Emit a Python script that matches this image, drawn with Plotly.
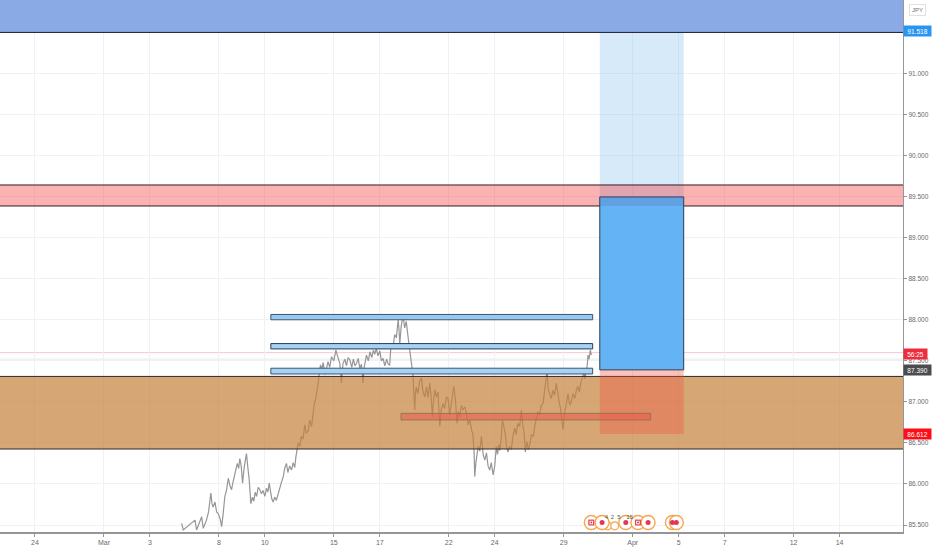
import plotly.graph_objects as go

# trading-day index (0 = 24 Feb) and price
day = [6.38,6.45,6.96,7.03,7.25,7.32,7.46,7.55,7.65,7.70,
       7.75,7.83,7.90,7.97,8.05,8.12,8.18,8.26,8.33,8.41,
       8.48,8.55,8.62,8.70,8.80,8.86,8.91,8.97,9.03,9.10,
       9.20,9.26,9.32,9.39,9.46,9.52,9.58,9.64,9.71,9.78,
       9.85,9.92,10.0,10.07,10.13,10.19,10.25,10.30,10.36,10.43,
       10.50,10.58,10.66,10.72,10.80,10.87,10.94,11.0,11.08,11.16,
       11.23,11.30,11.35,11.45,11.52,11.59,11.66,11.74,11.80,11.88,
       11.95,12.03,12.10,12.15,12.20,12.26,12.32,12.37,12.42,12.48,
       12.54,12.61,12.68,12.75,12.82,12.90,13.0,13.09,13.16,13.26,
       13.30,13.33,13.37,13.40,13.48,13.55,13.62,13.70,13.78,13.85,
       13.92,13.99,14.06,14.13,14.20,14.27,14.32,14.37,14.42,14.50,
       14.57,14.65,14.72,14.78,14.85,14.92,15.0,15.07,15.14,15.22,
       15.30,15.36,15.43,15.47,15.51,15.58,15.65,15.72,15.80,15.84,
       15.87,15.93,16.01,16.08,16.15,16.23,16.30,16.37,16.41,16.45,
       16.48,16.52,16.55,16.59,16.66,16.73,16.81,16.88,16.96,17.03,
       17.10,17.17,17.23,17.29,17.34,17.39,17.46,17.53,17.61,17.67,
       17.75,17.82,17.90,17.97,18.04,18.10,18.16,18.22,18.29,18.36,
       18.42,18.48,18.55,18.62,18.70,18.77,18.84,18.92,18.99,19.05,
       19.10,19.13,19.18,19.23,19.28,19.35,19.42,19.50,19.57,19.64,
       19.71,19.78,19.85,19.93,20.0,20.07,20.12,20.18,20.22,20.28,
       20.33,20.40,20.46,20.52,20.58,20.65,20.72,20.80,20.87,20.93,
       21.0,21.08,21.16,21.22,21.28,21.33,21.40,21.46,21.52,21.60,
       21.68,21.75,21.81,21.88,21.95,22.03,22.10,22.16,22.22,22.28,
       22.32,22.38,22.46,22.53,22.60,22.68,22.74,22.80,22.86,22.92,
       22.97,23.03,23.10,23.15,23.19,23.26,23.33,23.40,23.48,23.55,
       23.62,23.68,23.75,23.84,23.87,23.92,23.96,24.02,24.06,24.10,
       24.16,24.20]
price = [85.52,85.44,85.56,85.44,85.60,85.46,85.56,85.66,85.89,85.76,
         85.72,85.78,85.66,85.64,85.58,85.48,85.62,85.85,85.92,86.07,
         85.98,85.93,86.03,86.12,86.25,86.19,86.31,86.22,86.01,86.20,
         86.37,86.20,86.05,85.76,85.84,85.79,85.90,85.85,85.96,85.93,
         85.88,85.92,85.85,85.95,85.90,86.01,85.90,85.82,85.78,85.84,
         85.80,85.89,85.98,86.02,86.09,86.20,86.25,86.14,86.22,86.17,
         86.26,86.20,86.33,86.50,86.46,86.58,86.55,86.72,86.62,86.64,
         86.78,86.70,86.86,86.98,87.02,87.12,87.23,87.36,87.45,87.40,
         87.48,87.33,87.42,87.49,87.42,87.55,87.50,87.63,87.56,87.47,
         87.35,87.23,87.38,87.47,87.52,87.44,87.54,87.51,87.42,87.52,
         87.44,87.47,87.53,87.41,87.46,87.23,87.42,87.50,87.57,87.50,
         87.61,87.54,87.63,87.58,87.65,87.56,87.62,87.50,87.53,87.44,
         87.52,87.46,87.45,87.62,87.71,87.68,87.82,87.78,88.00,87.86,
         87.71,87.92,88.06,87.90,87.98,87.79,87.63,87.51,87.40,87.31,
         87.10,86.90,87.10,87.18,87.10,87.25,87.29,87.12,87.06,87.18,
         87.05,87.23,87.08,86.82,87.02,87.15,87.06,87.12,86.70,86.90,
         86.98,86.92,87.06,87.04,86.84,86.98,87.08,87.19,87.02,86.74,
         86.88,86.82,86.96,86.90,86.94,86.86,86.72,86.78,86.66,86.60,
         86.40,86.09,86.26,86.40,86.46,86.40,86.58,86.35,86.29,86.38,
         86.22,86.17,86.26,86.11,86.22,86.46,86.36,86.48,86.41,86.55,
         86.78,86.70,86.60,86.44,86.39,86.46,86.42,86.60,86.68,86.60,
         86.74,86.70,86.90,86.72,86.62,86.39,86.52,86.42,86.48,86.60,
         86.58,86.72,86.78,86.88,86.84,86.96,86.98,87.12,87.22,87.39,
         87.16,87.10,87.04,87.14,87.08,87.23,87.08,87.00,86.92,86.78,
         86.66,86.84,86.94,87.04,87.10,86.96,87.00,87.10,87.04,87.14,
         87.19,87.12,87.24,87.31,87.41,87.28,87.33,87.44,87.57,87.52,
         87.63,87.57]

x_ticks = [0,3,5,8,10,13,15,18,20,23,26,28,30,33,35]
x_labels = ["24","Mar","3","8","10","15","17","22","24","29","Apr","5","7","12","14"]
y_ticks = [85.5,86,86.5,87,87.5,88,88.5,89,89.5,90,90.5,91]

event_days = [24.20,24.67,25.70,26.23,26.67,27.73,27.90]
event_price = [85.53]*7
flag_days = [24.20,26.23]
flag_price = [85.53]*2
small_days = [24.92,25.22]
small_price = [85.49]*2
count_days = [24.86,25.12,25.40,25.87]
count_labels = ["4","2","5","15"]
count_price = [85.595]*4

X0, X1 = -1.522, 37.76
Y0, Y1 = 85.415, 91.895
# zones that run past the visible plot on both sides, so only their top and bottom edges show
BEYOND_L, BEYOND_R, BEYOND_TOP = -4, 40, 93

def rect(x0, x1, y0, y1, fill, line=None, w=1):
    return dict(type="rect", xref="x", yref="y", x0=x0, x1=x1, y0=y0, y1=y1, fillcolor=fill,
                line=dict(color=line, width=w) if line else dict(width=0), layer="above")

shapes = [
    rect(24.57, 28.22, 89.496, 91.50, "rgba(103,177,236,0.27)"),
    rect(BEYOND_L, BEYOND_R, 91.50, BEYOND_TOP, "rgb(138,170,230)", "rgb(30,30,40)", 1),
    rect(BEYOND_L, BEYOND_R, 86.426, 87.31, "rgba(196,129,59,0.70)", "rgb(40,40,40)", 1),
    rect(BEYOND_L, BEYOND_R, 89.386, 89.642, "rgba(242,62,62,0.40)", "rgb(50,30,30)", 1),
    rect(24.57, 28.22, 86.61, 87.39, "rgba(242,80,60,0.35)"),
    rect(24.57, 28.22, 87.39, 89.496, "rgb(100,180,245)", "rgb(40,60,80)", 1),
    rect(24.57, 28.22, 89.386, 89.496, "rgba(90,90,170,0.22)"),
    rect(10.26, 24.26, 88.00, 88.065, "rgb(150,200,240)", "rgb(60,85,110)", 1),
    rect(10.26, 24.26, 87.645, 87.71, "rgb(165,210,245)", "rgb(40,60,85)", 1),
    rect(10.26, 24.26, 87.34, 87.41, "rgb(165,210,245)", "rgb(60,85,110)", 1),
    rect(15.92, 26.78, 86.78, 86.86, "rgba(240,90,70,0.55)", "rgba(120,110,90,0.7)", 1),
    dict(type="line", xref="x", yref="y", x0=X0, x1=X1, y0=87.6, y1=87.6, line=dict(color="rgba(240,150,170,0.55)", width=1), layer="below"),
    dict(type="line", xref="x", yref="y", x0=X0, x1=X1, y0=87.52, y1=87.52, line=dict(color="rgba(200,200,215,0.4)", width=1), layer="below"),
]

tag_font = dict(family="Liberation Sans", size=6.5, color="white")
def tag(y, text, bg, w):
    return dict(xref="paper", yref="y", x=1, y=y, xanchor="left", yanchor="middle", text=text, showarrow=False,
                bgcolor=bg, font=tag_font, borderpad=1, width=w, height=8, align="center")

annotations = [
    tag(91.518, "91.518", "rgb(40,150,240)", 25),
    tag(87.58, "56:25", "rgb(238,45,60)", 21),
    tag(87.39, "87.390", "rgb(75,75,80)", 25),
    tag(86.612, "86.612", "rgb(250,15,25)", 25),
    dict(xref="paper", yref="paper", x=1, xshift=14, y=0.981, xanchor="center", yanchor="middle", text="JPY", showarrow=False,
         bgcolor="white", bordercolor="rgb(225,225,228)", borderwidth=1, borderpad=2,
         font=dict(family="Liberation Sans", size=6, color="rgb(110,110,115)")),
]

fig = go.Figure()
fig.add_trace(go.Scatter(x=day, y=price, mode="lines", line=dict(color="rgb(150,150,150)", width=1.2),
                         hoverinfo="skip", showlegend=False))
fig.add_trace(go.Scatter(x=small_days, y=small_price, mode="markers", showlegend=False,
                         marker=dict(size=8, color="white", line=dict(color="rgb(245,165,75)", width=1.2))))
fig.add_trace(go.Scatter(x=event_days, y=event_price, mode="markers", showlegend=False,
                         marker=dict(size=14, color="white", line=dict(color="rgb(245,165,75)", width=1.4))))
fig.add_trace(go.Scatter(x=event_days, y=event_price, mode="markers", showlegend=False,
                         marker=dict(size=5, color="rgb(225,55,85)")))
fig.add_trace(go.Scatter(x=flag_days, y=flag_price, mode="markers", showlegend=False,
                         marker=dict(size=6, symbol="square", color="rgb(225,70,90)")))
fig.add_trace(go.Scatter(x=flag_days, y=flag_price, mode="markers", showlegend=False,
                         marker=dict(size=3.5, symbol="square", color="white")))
fig.add_trace(go.Scatter(x=flag_days, y=flag_price, mode="markers", showlegend=False,
                         marker=dict(size=2, color="rgb(225,55,75)")))
fig.add_trace(go.Scatter(x=count_days, y=count_price, mode="text", text=count_labels, showlegend=False,
                         textfont=dict(family="Liberation Sans", size=6, color="rgb(90,90,90)")))

fig.update_layout(
    width=932, height=550, autosize=False,
    margin=dict(l=0, r=28.5, t=0, b=18),
    paper_bgcolor="white", plot_bgcolor="white",
    shapes=shapes, annotations=annotations, showlegend=False,
    font=dict(family="Liberation Sans", size=7, color="rgb(105,105,110)"),
    xaxis=dict(range=[X0, X1], tickvals=x_ticks, ticktext=x_labels, showgrid=True, gridcolor="rgb(240,241,245)", gridwidth=1,
               zeroline=False, showline=True, linecolor="rgb(150,150,152)", linewidth=1.5, ticks="outside", ticklen=3,
               tickcolor="rgb(150,150,152)", tickfont=dict(size=7, color="rgb(105,105,110)")),
    yaxis=dict(range=[Y0, Y1], side="right", tickvals=y_ticks, tickformat=".3f", showgrid=True, gridcolor="rgb(240,241,245)", gridwidth=1,
               zeroline=False, showline=True, linecolor="rgb(150,150,152)", linewidth=1.2, ticks="outside", ticklen=3,
               tickcolor="rgb(150,150,152)", tickfont=dict(size=6.5, color="rgb(105,105,110)")),
)
fig.write_html("out.html", config=dict(displayModeBar=False),
               post_script="document.body.style.margin='0';document.body.style.overflow='hidden';")
